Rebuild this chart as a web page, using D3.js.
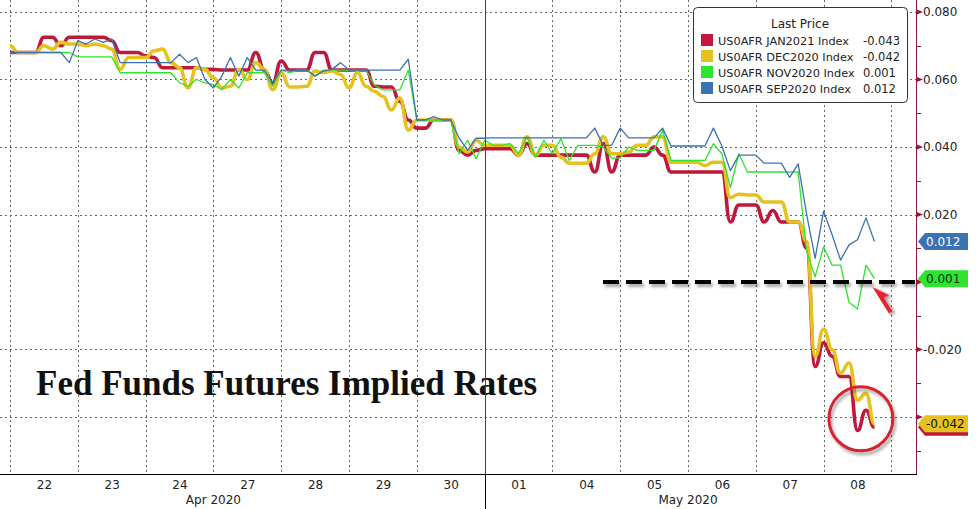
<!DOCTYPE html>
<html>
<head>
<meta charset="utf-8">
<script src="https://cdn.jsdelivr.net/npm/d3@7"></script>
<style>
  body { margin: 0; background: #fff; }
  svg { display: block; font-family: "DejaVu Sans", sans-serif; }
</style>
</head>
<body>
<svg width="976" height="509"></svg>
<script>

// Trading days on the x axis and the month captions under them
const dayLabels = ["22", "23", "24", "27", "28", "29", "30", "01", "04", "05", "06", "07", "08"];
const monthLabels = ["Apr 2020", "May 2020"];
const monthCenters = [3.0, 10.0];   // in trading days
const monthBreak = 7;               // Apr -> May

// Readings per trading day (intraday samples)
const samplesPerDay = 8;

// US0AFR JAN2021
const jan2021 = [
  0.068, 0.068, 0.068, 0.068, 0.0725, 0.0725, 0.070, 0.0725,
  0.0725, 0.0725, 0.0725, 0.0725, 0.0715, 0.068, 0.068, 0.068,
  0.067, 0.0665, 0.0635, 0.0635, 0.0635, 0.0635, 0.0635, 0.063,
  0.063, 0.0628, 0.0628, 0.0628, 0.0628, 0.068, 0.0628, 0.059,
  0.0655, 0.0628, 0.0628, 0.0628, 0.068, 0.068, 0.0628, 0.0628,
  0.0628, 0.0628, 0.0628, 0.058, 0.0578, 0.0578, 0.0535, 0.048,
  0.0456, 0.0456, 0.048, 0.048, 0.048, 0.039, 0.0376, 0.039,
  0.0395, 0.0395, 0.0395, 0.0395, 0.0376, 0.041, 0.0376, 0.0376,
  0.0376, 0.0376, 0.0376, 0.0376, 0.0376, 0.0326, 0.041, 0.0326,
  0.0376, 0.0376, 0.0376, 0.0376, 0.040, 0.0376, 0.0326, 0.0326,
  0.0326, 0.0326, 0.0326, 0.0326, 0.0326, 0.0178, 0.0228, 0.0228,
  0.0228, 0.0178, 0.0212, 0.0178, 0.0178, 0.0178, 0.010, -0.025,
  -0.018, -0.022, -0.028, -0.028, -0.044, -0.038, -0.043
];

// US0AFR DEC2020
const dec2020 = [
  0.070, 0.068, 0.068, 0.068, 0.070, 0.069, 0.071, 0.0705,
  0.0705, 0.070, 0.0705, 0.070, 0.069, 0.063, 0.0665, 0.0665,
  0.0665, 0.0685, 0.069, 0.065, 0.0635, 0.0575, 0.0635, 0.063,
  0.0605, 0.0575, 0.058, 0.063, 0.060, 0.065, 0.063, 0.057,
  0.062, 0.0578, 0.0578, 0.058, 0.0625, 0.062, 0.0625, 0.0615,
  0.0575, 0.062, 0.058, 0.0565, 0.055, 0.051, 0.0545, 0.045,
  0.048, 0.048, 0.048, 0.048, 0.048, 0.040, 0.0385, 0.042,
  0.0405, 0.0405, 0.0405, 0.0405, 0.0376, 0.043, 0.0376, 0.0405,
  0.0405, 0.037, 0.0352, 0.0352, 0.0352, 0.038, 0.043, 0.038,
  0.038, 0.0385, 0.0405, 0.0405, 0.043, 0.043, 0.0355, 0.0355,
  0.0355, 0.0355, 0.0345, 0.0355, 0.0355, 0.025, 0.026, 0.0258,
  0.0258, 0.0237, 0.0237, 0.0237, 0.0178, 0.0178, 0.012, -0.022,
  -0.014, -0.020, -0.027, -0.024, -0.035, -0.033, -0.042
];

// US0AFR NOV2020
const nov2020 = [
  0.068, 0.068, 0.068, 0.068, 0.068, 0.068, 0.068, 0.068,
  0.0667, 0.0667, 0.0667, 0.0667, 0.0667, 0.062, 0.062, 0.062,
  0.062, 0.062, 0.062, 0.062, 0.059, 0.058, 0.060, 0.059,
  0.0585, 0.057, 0.060, 0.0575, 0.062, 0.062, 0.062, 0.058,
  0.0628, 0.062, 0.0628, 0.0628, 0.061, 0.0628, 0.0628, 0.0628,
  0.0628, 0.0628, 0.0628, 0.0583, 0.0569, 0.0569, 0.0569, 0.0628,
  0.048, 0.048, 0.048, 0.048, 0.048, 0.038, 0.042, 0.0365,
  0.042, 0.0405, 0.0405, 0.041, 0.038, 0.043, 0.037, 0.042,
  0.038, 0.0425, 0.036, 0.0405, 0.0405, 0.0405, 0.040, 0.0367,
  0.0367, 0.040, 0.039, 0.039, 0.039, 0.045, 0.036, 0.036,
  0.036, 0.036, 0.036, 0.041, 0.038, 0.028, 0.038, 0.0326,
  0.0326, 0.0326, 0.0326, 0.0326, 0.0326, 0.0326, 0.009, 0.0015,
  0.0104, 0.005, 0.005, -0.006, -0.008, 0.005, 0.001
];

// US0AFR SEP2020
const sep2020 = [
  0.068, 0.068, 0.068, 0.068, 0.068, 0.068, 0.068, 0.065,
  0.0715, 0.0705, 0.072, 0.071, 0.072, 0.065, 0.065, 0.065,
  0.065, 0.065, 0.065, 0.065, 0.0675, 0.065, 0.0665, 0.060,
  0.0575, 0.061, 0.0665, 0.061, 0.0665, 0.0628, 0.0628, 0.059,
  0.0628, 0.0628, 0.0628, 0.0628, 0.061, 0.0625, 0.063, 0.065,
  0.0628, 0.0628, 0.0628, 0.0628, 0.0628, 0.0628, 0.0628, 0.066,
  0.048, 0.048, 0.049, 0.048, 0.048, 0.0426, 0.039, 0.0426,
  0.0426, 0.0427, 0.0427, 0.0427, 0.0427, 0.0427, 0.0427, 0.0427,
  0.0427, 0.0427, 0.0427, 0.0427, 0.0427, 0.0456, 0.0405, 0.0405,
  0.0456, 0.0427, 0.0427, 0.0427, 0.0427, 0.0456, 0.0403, 0.0403,
  0.0403, 0.0403, 0.0403, 0.0456, 0.0403, 0.033, 0.0376, 0.0376,
  0.0376, 0.0352, 0.0352, 0.0352, 0.031, 0.035, 0.020, 0.007,
  0.021, 0.014, 0.0065, 0.011, 0.0125, 0.019, 0.012
];

const seriesNames = ["US0AFR JAN2021 Index", "US0AFR DEC2020 Index", "US0AFR NOV2020 Index", "US0AFR SEP2020 Index"];
const lastPrices = [-0.043, -0.042, 0.001, 0.012];
const seriesColors = ["#c0173c", "#e6c21e", "#2fe42f", "#3b72b0"];
const seriesWidths = [3.6, 3.6, 1.3, 1.3];

const yMajor = [0.08, 0.06, 0.04, 0.02, 0, -0.02, -0.04];
const yMinor = [0.07, 0.05, 0.03, 0.01, -0.01, -0.03, -0.05];

const titleText = "Fed Funds Futures Implied Rates";
const markLevel = 0.0;   // hand-drawn dashed line

const svg = d3.select("svg");
const defs = svg.append("defs");

defs.append("filter")
    .attr("id", "shadow")
    .attr("filterUnits", "userSpaceOnUse")
    .attr("x", 0).attr("y", 0)
    .attr("width", 976).attr("height", 509)
  .append("feDropShadow")
    .attr("dx", 2).attr("dy", 3)
    .attr("stdDeviation", 1.6)
    .attr("flood-color", "#000")
    .attr("flood-opacity", 0.35);

const plotRight = 917;
const plotBottom = 474;

const x = d3.scaleLinear()
    .domain([0, dayLabels.length])
    .range([10, 10 + 67.8 * dayLabels.length]);

const y = d3.scaleLinear()
    .domain([0.08, -0.04])
    .range([12, 417]);


// Grid
const grid = svg.append("g")
    .attr("stroke", "#666")
    .attr("stroke-width", 1)
    .attr("stroke-dasharray", "2,3");

grid.selectAll("line.v")
    .data(d3.range(dayLabels.length + 1).filter(function (d) { return d !== monthBreak && x(d) < plotRight; }))
    .enter().append("line")
      .attr("class", "v")
      .attr("x1", function (d) { return Math.round(x(d)) + 0.5; })
      .attr("x2", function (d) { return Math.round(x(d)) + 0.5; })
      .attr("y1", 0)
      .attr("y2", plotBottom);

grid.selectAll("line.h")
    .data(yMajor.filter(function (d) { return d !== 0; }))
    .enter().append("line")
      .attr("class", "h")
      .attr("x1", 0)
      .attr("x2", plotRight)
      .attr("y1", function (d) { return Math.round(y(d)) + 0.5; })
      .attr("y2", function (d) { return Math.round(y(d)) + 0.5; });


// Series (thick ones snap between readings, thin ones are plain lines)
const series = [jan2021, dec2020, nov2020, sep2020];

function seriesLine(thick) {
  return d3.line()
      .x(function (d, i) { return x(i / samplesPerDay); })
      .y(function (d) { return y(d); })
      .curve(thick ? d3.curveBumpX : d3.curveLinear);
}

svg.append("g")
    .selectAll("path")
    .data(series)
    .enter().append("path")
      .attr("fill", "none")
      .attr("stroke", function (d, i) { return seriesColors[i]; })
      .attr("stroke-width", function (d, i) { return seriesWidths[i]; })
      .attr("stroke-linejoin", "round")
      .attr("d", function (d, i) { return seriesLine(seriesWidths[i] > 2)(d); });


// Title
svg.append("text")
    .attr("x", 36)
    .attr("y", 395)
    .style("font-family", "'Liberation Serif', serif")
    .style("font-weight", "bold")
    .style("font-size", "35px")
    .attr("fill", "#111")
    .text(titleText);


// Annotations: dashed level, arrow, circle
svg.append("line")
    .attr("x1", 603)
    .attr("x2", plotRight - 2)
    .attr("y1", y(markLevel))
    .attr("y2", y(markLevel))
    .attr("stroke", "#000")
    .attr("stroke-width", 4)
    .attr("stroke-dasharray", "16,7")
    .attr("filter", "url(#shadow)");

svg.append("polygon")
    .attr("points", "0,0 10,16 4,15 4,31 -4,31 -4,15 -10,16")
    .attr("fill", "#e8202a")
    .attr("transform", "translate(" + [x(12.72), y(-0.0015)] + ")rotate(-32)")
    .attr("filter", "url(#shadow)");

svg.append("circle")
    .attr("cx", x(12.55))
    .attr("cy", y(-0.0405))
    .attr("r", 32)
    .attr("fill", "none")
    .attr("stroke", "#d8232e")
    .attr("stroke-width", 3)
    .attr("filter", "url(#shadow)");


// Bottom axis
svg.append("line")
    .attr("x1", 0).attr("x2", plotRight)
    .attr("y1", plotBottom + 0.5).attr("y2", plotBottom + 0.5)
    .attr("stroke", "#000");

svg.append("line")
    .attr("x1", Math.round(x(monthBreak)) + 0.5)
    .attr("x2", Math.round(x(monthBreak)) + 0.5)
    .attr("y1", plotBottom).attr("y2", 509)
    .attr("stroke", "#000");

svg.append("line")
    .attr("x1", Math.round(x(monthBreak)) + 0.5)
    .attr("x2", Math.round(x(monthBreak)) + 0.5)
    .attr("y1", 0).attr("y2", plotBottom)
    .attr("stroke", "#444");

const xAxis = d3.axisBottom(x)
    .tickValues(dayLabels.map(function (d, i) { return i + 0.5; }))
    .tickFormat(function (d) { return dayLabels[Math.floor(d)]; })
    .tickSize(0)
    .tickPadding(6);

const gx = svg.append("g")
    .attr("transform", "translate(0," + plotBottom + ")")
    .call(xAxis);
gx.select(".domain").remove();
gx.selectAll("text")
    .style("font-family", "'DejaVu Sans', sans-serif")
    .style("font-size", "12px")
    .attr("fill", "#222");

svg.selectAll("text.month")
    .data(monthLabels)
    .enter().append("text")
      .attr("class", "month")
      .attr("x", function (d, i) { return x(monthCenters[i]); })
      .attr("y", 504)
      .attr("text-anchor", "middle")
      .style("font-size", "12px")
      .attr("fill", "#222")
      .text(function (d) { return d; });


// Right axis; tick labels hidden where a last price tag sits on them
svg.append("line")
    .attr("x1", plotRight - 0.5).attr("x2", plotRight - 0.5)
    .attr("y1", 0).attr("y2", plotBottom)
    .attr("stroke", "#8a1c3c");

const labelled = yMajor.filter(function (d) {
  return lastPrices.every(function (p) { return Math.abs(y(p) - y(d)) > 12; });
});

const yAxis = d3.axisRight(y)
    .tickValues(labelled)
    .tickFormat(function (d) { return d.toFixed(3); })
    .tickSize(0)
    .tickPadding(6);

const gy = svg.append("g")
    .attr("transform", "translate(" + plotRight + ",0)")
    .call(yAxis);
gy.select(".domain").remove();
gy.selectAll("text")
    .style("font-family", "'DejaVu Sans', sans-serif")
    .style("font-size", "12px")
    .attr("fill", "#222");

svg.append("g")
    .selectAll("path")
    .data(yMajor)
    .enter().append("path")
      .attr("d", function (d) {
        const yy = y(d);
        return "M" + plotRight + "," + (yy - 2.5) + "L" + (plotRight + 6) + "," + yy + "L" + plotRight + "," + (yy + 2.5) + "Z";
      })
      .attr("fill", "#a0143c");

svg.append("g")
    .selectAll("line")
    .data(yMinor)
    .enter().append("line")
      .attr("x1", plotRight).attr("x2", plotRight + 4)
      .attr("y1", function (d) { return Math.round(y(d)) + 0.5; })
      .attr("y2", function (d) { return Math.round(y(d)) + 0.5; })
      .attr("stroke", "#8a1c3c");


// Last price tags on the axis (a tag covered by a later one shows no text)
const tagText = ["#111", "#111", "#103010", "#fff"];

const tags = svg.append("g")
    .selectAll("g")
    .data(lastPrices)
    .enter().append("g")
      .attr("transform", function (d) { return "translate(" + plotRight + "," + y(d) + ")"; });

tags.append("path")
    .attr("d", "M1,0L8,-8.5L51,-8.5L51,8.5L8,8.5Z")
    .attr("fill", function (d, i) { return seriesColors[i]; });

tags.filter(function (d, i) {
      return lastPrices.slice(i + 1).every(function (p) { return Math.abs(y(p) - y(d)) > 12; });
    })
  .append("text")
    .attr("x", 9)
    .attr("y", 4.5)
    .style("font-size", "12px")
    .attr("fill", function (d) { return tagText[lastPrices.indexOf(d)]; })
    .text(function (d) { return d.toFixed(3); });


// Legend
const legend = svg.append("g");

legend.append("rect")
    .attr("x", 693.5).attr("y", 7.5)
    .attr("width", 214).attr("height", 95)
    .attr("rx", 4)
    .attr("fill", "#fff")
    .attr("stroke", "#333");

legend.append("text")
    .attr("x", 800)
    .attr("y", 28)
    .attr("text-anchor", "middle")
    .style("font-size", "12px")
    .attr("fill", "#222")
    .text("Last Price");

const rows = legend.selectAll("g.row")
    .data(seriesNames)
    .enter().append("g")
      .attr("class", "row")
      .attr("transform", function (d, i) { return "translate(0," + (40 + 16 * i) + ")"; });

rows.append("rect")
    .attr("x", 701).attr("y", -6)
    .attr("width", 12).attr("height", 12)
    .attr("fill", function (d, i) { return seriesColors[i]; });

rows.append("text")
    .attr("x", 718).attr("y", 4.5)
    .style("font-size", "11.3px")
    .attr("fill", "#222")
    .text(function (d) { return d; });

rows.append("text")
    .attr("x", 863)
    .attr("y", 4.5)
    .style("font-size", "11.5px")
    .attr("fill", "#222")
    .text(function (d, i) { return lastPrices[i].toFixed(3); });

</script>
</body>
</html>
